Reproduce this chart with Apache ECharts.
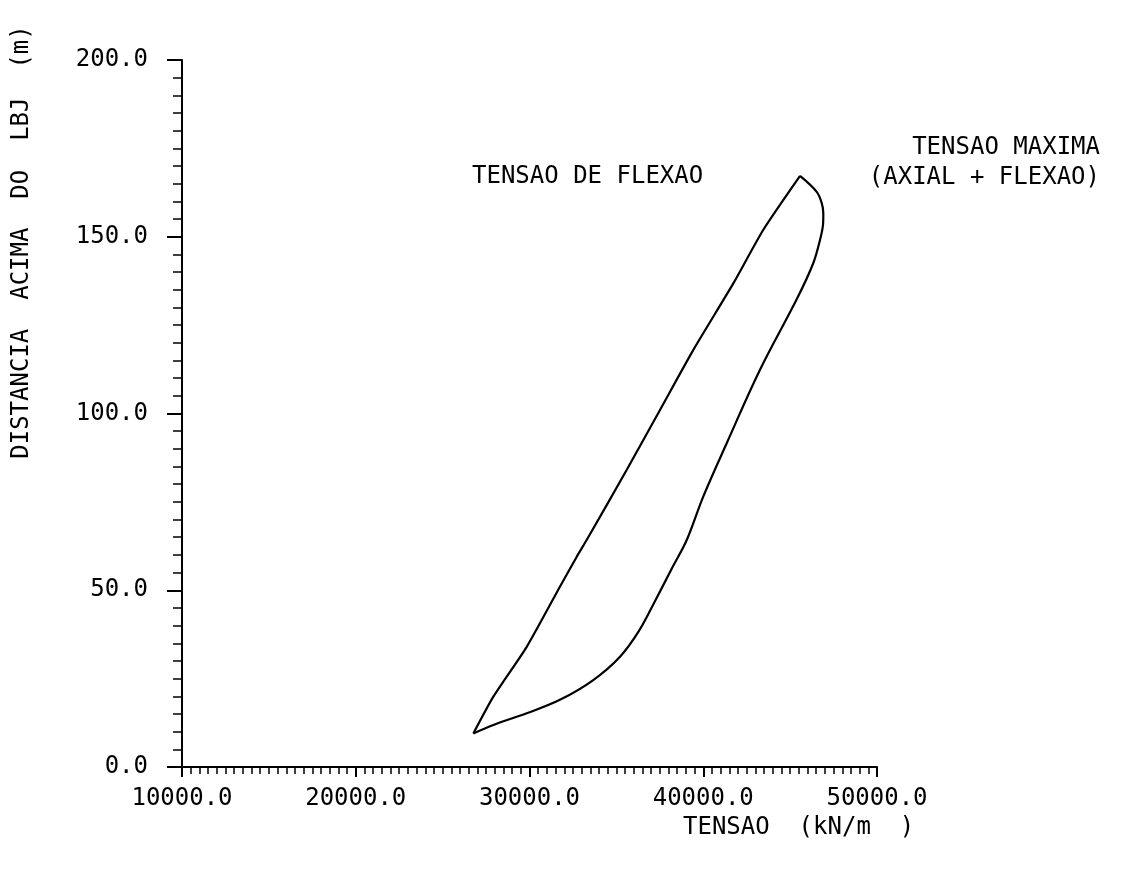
<!DOCTYPE html>
<html lang="pt">
<head>
    <meta charset="UTF-8">
    <title>Tensao x distancia</title>
    <script src="https://cdn.jsdelivr.net/npm/echarts@6/dist/echarts.min.js"></script>
    <style>
        body { margin: 0; background: #fff; }
        #chart { width: 1124px; height: 878px; }
    </style>
</head>
<body>
<div id="chart"></div>
<script>
    // TENSAO DE FLEXAO (kN/m) vs distancia (m)
    const flexaoX = [26770, 27920, 29840, 31750, 32720, 33290, 35590, 37510, 39430, 41730, 43450, 45570];
    const flexaoY = [9.5, 19.9, 34.0, 51.0, 59.5, 64.2, 84.0, 101.0, 118.0, 136.8, 151.9, 167.2];

    // TENSAO MAXIMA (axial + flexao)
    const maximaX = [26770, 27920, 29840, 31750, 33670, 35210, 36300, 37250, 38250, 39050, 40000, 41350, 43260, 45400, 46330, 46720, 46900, 46910, 46820, 46530, 45570];
    const maximaY = [9.5, 11.9, 15.2, 19.0, 24.6, 31.2, 38.5, 47.2, 56.7, 64.2, 76.5, 91.6, 112.3, 132.5, 142.5, 149.1, 153.8, 156.6, 159.5, 162.7, 167.2];

    const xTicks = { min: 10000, max: 50000, step: 10000 };
    const yTicks = { min: 0, max: 200, step: 50 };

    const FONT = '"DejaVu Sans Mono", monospace';

    const zip = (xs, ys) => xs.map((x, i) => [x, ys[i]]);

    const chart = echarts.init(document.querySelector('#chart'));

    const axisCommon = {
        type: 'value',
        axisLine: { lineStyle: { color: '#000', width: 2 } },
        splitLine: { show: false },
        minorSplitLine: { show: false },
        axisLabel: {
            color: '#000',
            fontFamily: FONT,
            fontSize: 24,
            formatter: v => v.toFixed(1)
        }
    };

    chart.setOption({
        animation: false,
        backgroundColor: '#fff',
        grid: { left: 182, top: 60, right: 247, bottom: 111 },
        xAxis: Object.assign({}, axisCommon, {
            min: xTicks.min,
            max: xTicks.max,
            interval: xTicks.step,
            axisTick: { length: 10, lineStyle: { color: '#000', width: 2 } },
            minorTick: { show: true, splitNumber: 20, length: 7, lineStyle: { color: '#000', width: 1.5 } },
            axisLabel: Object.assign({}, axisCommon.axisLabel, { margin: 20 })
        }),
        yAxis: Object.assign({}, axisCommon, {
            min: yTicks.min,
            max: yTicks.max,
            interval: yTicks.step,
            axisTick: { length: 15, lineStyle: { color: '#000', width: 2 } },
            minorTick: { show: true, splitNumber: 10, length: 9, lineStyle: { color: '#000', width: 1.5 } },
            axisLabel: Object.assign({}, axisCommon.axisLabel, { margin: 34 })
        }),
        series: [
            {
                name: 'TENSAO DE FLEXAO',
                type: 'line',
                symbol: 'none',
                smooth: 0.2,
                lineStyle: { color: '#000', width: 2.2 },
                data: zip(flexaoX, flexaoY)
            },
            {
                name: 'TENSAO MAXIMA',
                type: 'line',
                symbol: 'none',
                smooth: 0.35,
                lineStyle: { color: '#000', width: 2.2 },
                data: zip(maximaX, maximaY)
            }
        ],
        graphic: [
            {
                type: 'text', x: 22, y: 242, rotation: Math.PI / 2,
                style: { text: 'DISTANCIA  ACIMA  DO  LBJ  (m)', font: '24px ' + FONT, fill: '#000', align: 'center', verticalAlign: 'middle' }
            },
            {
                type: 'text', x: 683, y: 828,
                style: { text: 'TENSAO  (kN/m  )', font: '24px ' + FONT, fill: '#000', align: 'left', verticalAlign: 'middle' }
            },
            {
                type: 'text', x: 472, y: 177,
                style: { text: 'TENSAO DE FLEXAO', font: '24px ' + FONT, fill: '#000', align: 'left', verticalAlign: 'middle' }
            },
            {
                type: 'text', x: 1100, y: 148,
                style: { text: 'TENSAO MAXIMA', font: '24px ' + FONT, fill: '#000', align: 'right', verticalAlign: 'middle' }
            },
            {
                type: 'text', x: 1100, y: 178,
                style: { text: '(AXIAL + FLEXAO)', font: '24px ' + FONT, fill: '#000', align: 'right', verticalAlign: 'middle' }
            }
        ]
    });
</script>
</body>
</html>
